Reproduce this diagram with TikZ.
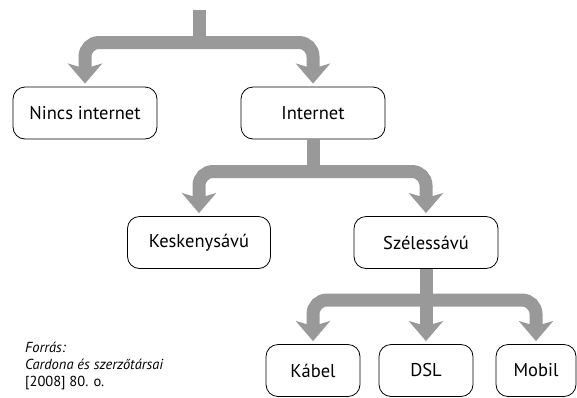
\documentclass[tikz,border=0pt]{standalone}
\usepackage{fontspec}
\setmainfont{PT Sans}
\usetikzlibrary{arrows.meta}

\begin{document}
\begin{tikzpicture}[x=1pt, y=-1pt,
    box/.style={draw, rounded corners=12pt, minimum height=52pt, inner sep=0pt, line width=0.8pt, font=\fontsize{18.5}{22}\selectfont},
    note/.style={anchor=base west, inner sep=0pt, font=\fontsize{14.5}{17}\selectfont},
    stem/.style={draw=black!40, line width=13pt},
    flow/.style={stem, rounded corners=14pt, -{Stealth[length=20pt, width=34pt, inset=5pt]}}]
    \useasboundingbox (0,0) rectangle (577,397);

    % Boxes, top level
    \node (nincs) [box, minimum width=144pt] at (85,113) {Nincs internet};
    \node (inet) [box, minimum width=144pt] at (313,113) {Internet};
    % Boxes, second level
    \node (kesk) [box, minimum width=143pt] at (199,242.5) {Keskenysávú};
    \node (szeles) [box, minimum width=144pt] at (426,242.5) {Szélessávú};
    % Boxes, third level
    \node (kabel) [box, minimum width=94pt] at (313,370.5) {Kábel};
    \node (dsl) [box, minimum width=94pt] at (426,370.5) {DSL};
    \node (mobil) [box, minimum width=80pt] at (536,370.5) {Mobil};

    % Source note
    \node (src1) [note] at (25,352) {\textit{Forrás:}};
    \node (src2) [note] at (25,369) {\textit{Cardona és szerzőtársai}};
    \node (src3) [note] at (25,386) {[2008] 80. o.};

    % Junctions of the branches
    \coordinate (top) at (199,10);
    \coordinate (j1) at (199,42.5);
    \coordinate (j2) at (313,171.5);
    \coordinate (j3) at (426,300);

    % Branch arrows
    \draw[stem] (top) -- (j1);
    \draw[flow] (j1) -| ([yshift=3pt]nincs.north);
    \draw[flow] (j1) -| ([yshift=3pt]inet.north);
    \draw[stem] (inet.south) -- (j2);
    \draw[flow] (j2) -| ([yshift=3pt]kesk.north);
    \draw[flow] (j2) -| ([yshift=3pt]szeles.north);
    \draw[flow] (szeles.south) -- ([yshift=3pt]dsl.north);
    \draw[flow] (j3) -| ([yshift=3pt]kabel.north);
    \draw[flow] (j3) -| ([yshift=3pt]mobil.north);
\end{tikzpicture}
\end{document}
